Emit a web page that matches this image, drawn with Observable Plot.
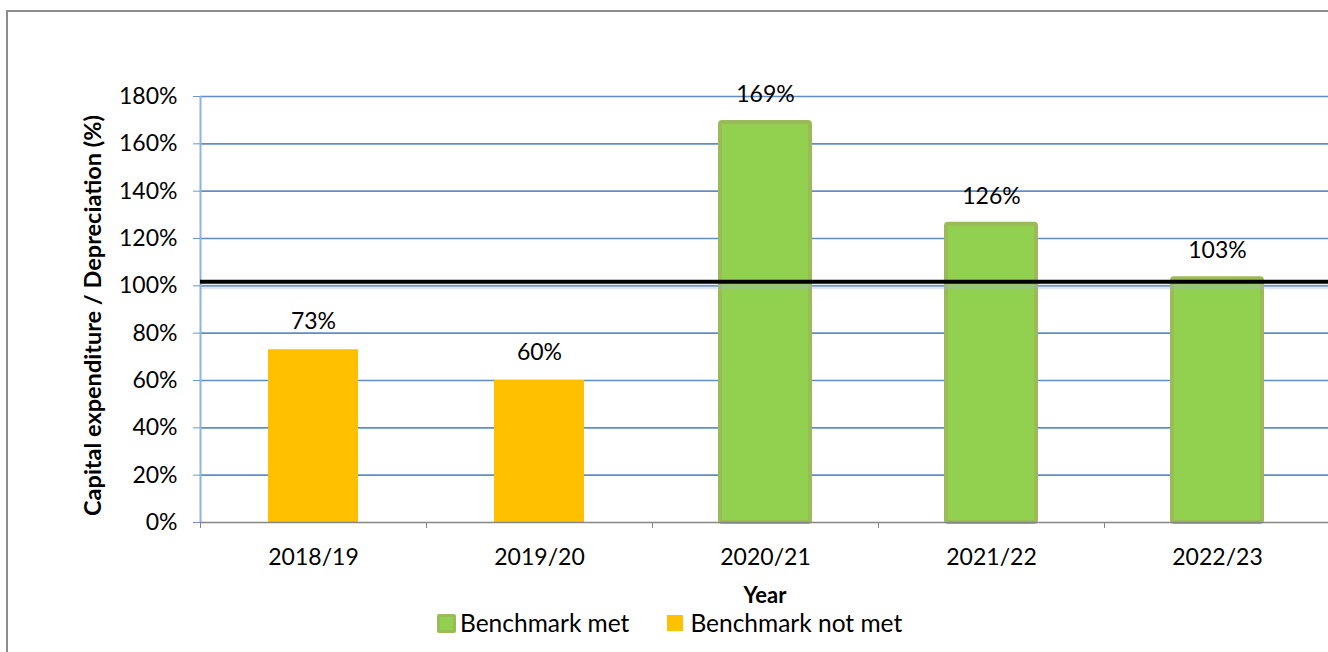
<!DOCTYPE html>
<html>
<head>
<meta charset="utf-8">
<script src="https://cdn.jsdelivr.net/npm/d3@7"></script>
<script src="https://cdn.jsdelivr.net/npm/@observablehq/plot@0.6"></script>
<style>
  html, body { margin: 0; padding: 0; background: #fff; }
  #wrap { position: relative; width: 1328px; height: 652px; overflow: hidden; font-family: Lato, "Open Sans", sans-serif; background: #fff; }
  #frame { position: absolute; left: 6px; top: 10px; width: 1400px; height: 700px; border-left: 2px solid #8c8c8c; border-top: 2px solid #8c8c8c; }
  #chart { position: absolute; left: 0; top: 0; width: 1340px; }
  #chart svg { max-width: none !important; }
  #xtitle { position: absolute; left: 0; width: 1530px; top: 584px; text-align: center; font-weight: bold; font-size: 22px; line-height: 22px; color: #000; }
  #legend { position: absolute; top: 611px; left: 437px; display: flex; align-items: center; font-size: 24.5px; line-height: 24px; color: #000; }
  .sw { display: inline-block; box-sizing: border-box; }
</style>
</head>
<body>
<div id="wrap">
  <div id="frame"></div>
  <div id="chart"></div>
  <div id="xtitle">Year</div>
  <div id="legend">
    <span class="sw" style="width:19px;height:19px;background:#92D050;border:3px solid #9BBB59;border-radius:2px;"></span>
    <span style="margin-left:4px;">Benchmark met</span>
    <span class="sw" style="width:16px;height:16px;background:#FFC000;margin-left:38px;"></span>
    <span style="margin-left:7px;">Benchmark not met</span>
  </div>
</div>
<script>
const years = ["2018/19", "2019/20", "2020/21", "2021/22", "2022/23"];
const values = [73, 60, 169, 126, 103];
const benchmark = 100;
const yTicks = [0, 20, 40, 60, 80, 100, 120, 140, 160, 180];
const yTitle = "Capital expenditure / Depreciation (%)";

const data = years.map((year, i) => ({year, value: values[i], met: values[i] >= benchmark}));

const green = "#92D050", greenEdge = "#9BBB59", yellow = "#FFC000";
const gridBlue = "#4F81BD";

const chart = Plot.plot({
  width: 1340,
  height: 580,
  marginLeft: 200,
  marginRight: 10,
  marginTop: 96,
  marginBottom: 58,
  style: {fontFamily: "Lato, 'Open Sans', sans-serif", fontSize: "23px", color: "#000", background: "transparent", maxWidth: "none"},
  x: {domain: years, padding: 0},
  y: {domain: [0, 180]},
  marks: [
    Plot.ruleY(yTicks.filter(d => d > 0), {stroke: gridBlue, strokeWidth: 1.6, strokeOpacity: 0.9}),
    Plot.ruleX([years[0]], {dx: -113, stroke: "#8EB4E3", strokeWidth: 2}),
    Plot.axisY({ticks: yTicks, tickFormat: d => d + "%", tickSize: 7, tickPadding: 16, stroke: "#6d95c9", fill: "#000", label: null, fontSize: 23}),
    Plot.text([yTitle], {frameAnchor: "left", rotate: -90, dx: -107, dy: 6, fontWeight: "bold", fontSize: 23.5, fill: "#000", textAnchor: "middle", lineAnchor: "middle"}),
    Plot.barY(data, {filter: d => !d.met, x: "year", y: "value", fill: yellow, insetLeft: 68, insetRight: 68}),
    Plot.barY(data, {filter: d => d.met, x: "year", y: "value", fill: green, stroke: greenEdge, strokeWidth: 4, insetLeft: 68, insetRight: 68, rx: 2}),
    Plot.ruleY([0], {stroke: "#868686", strokeWidth: 1.6}),
    Plot.axisX({tickSize: 6, tickFormat: () => "", dx: -113, stroke: "#868686", label: null}),
    Plot.axisX({tickSize: 0, tickPadding: 26, fill: "#000", label: null, fontSize: 23}),
    Plot.ruleY([benchmark], {stroke: "#9fb3cc", strokeWidth: 5, strokeOpacity: 0.3, dy: 1}),
    Plot.ruleY([benchmark], {stroke: "#000", strokeWidth: 4, dy: -4}),
    Plot.text(data, {x: "year", y: "value", text: d => d.value + "%", dy: -28, fontSize: 23, fill: "#000"})
  ]
});
document.getElementById("chart").appendChild(chart);
</script>
</body>
</html>
